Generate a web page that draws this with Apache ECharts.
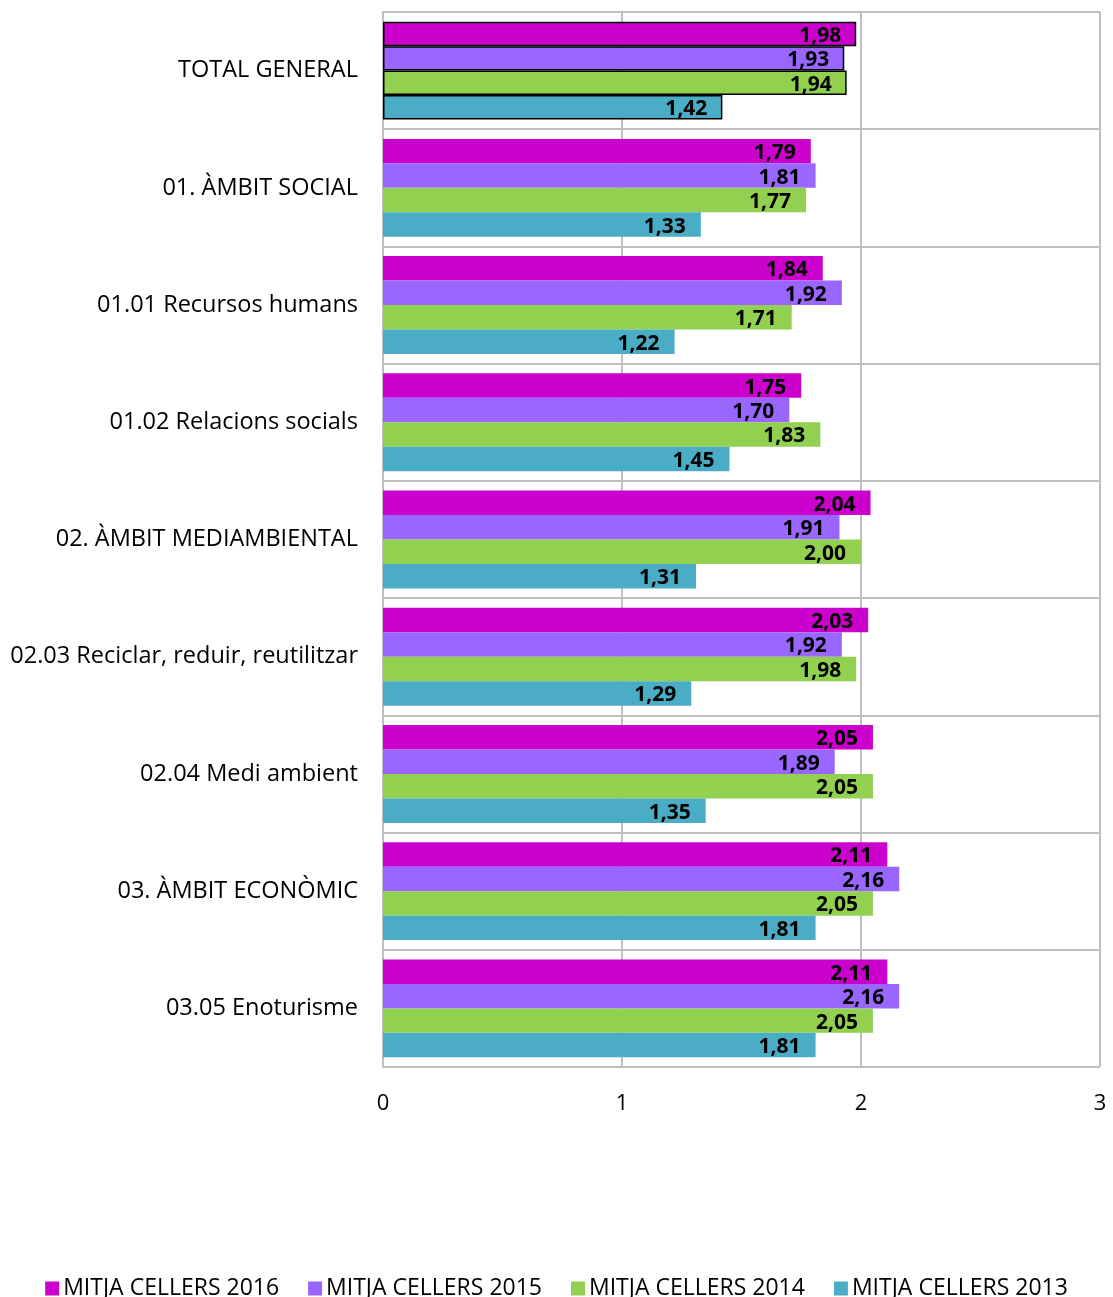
<!DOCTYPE html>
<html><head><meta charset="utf-8">
<script src="https://cdn.jsdelivr.net/npm/echarts@6/dist/echarts.min.js"></script>
<style>html,body{margin:0;padding:0;background:#fff}#c{width:1113px;height:1297px}</style>
</head><body><div id="c"></div>
<script>
const categories = ["TOTAL GENERAL","01. ÀMBIT SOCIAL","01.01 Recursos humans","01.02 Relacions socials","02. ÀMBIT MEDIAMBIENTAL","02.03 Reciclar, reduir, reutilitzar","02.04 Medi ambient","03. ÀMBIT ECONÒMIC","03.05 Enoturisme"];
const seriesNames = ["MITJA CELLERS 2016","MITJA CELLERS 2015","MITJA CELLERS 2014","MITJA CELLERS 2013"];
const v2016 = [1.98,1.79,1.84,1.75,2.04,2.03,2.05,2.11,2.11];
const v2015 = [1.93,1.81,1.92,1.70,1.91,1.92,1.89,2.16,2.16];
const v2014 = [1.94,1.77,1.71,1.83,2.00,1.98,2.05,2.05,2.05];
const v2013 = [1.42,1.33,1.22,1.45,1.31,1.29,1.35,1.81,1.81];
const xTicks = [0,1,2,3];
const colors = ["#CC00CC","#9966FF","#92D050","#4BACC6"];

const FONT = "'Open Sans','Noto Sans',sans-serif";
const allVals = [v2016,v2015,v2014,v2013];
const chart = echarts.init(document.getElementById('c'));
chart.setOption({
  animation:false,
  textStyle:{fontFamily:FONT},
  grid:{left:383,right:13,top:12,bottom:230,containLabel:false},
  legend:{left:'center',top:1272,itemWidth:14,itemHeight:14,itemGap:29,icon:'rect',
    textStyle:{fontSize:23,color:'#000',fontFamily:FONT,padding:[0,0,0,-1]},data:seriesNames},
  xAxis:{type:'value',min:xTicks[0],max:xTicks[xTicks.length-1],interval:1,
    axisLine:{show:false},axisTick:{show:false},
    axisLabel:{fontSize:22,color:'#000',margin:26,fontFamily:FONT},
    splitLine:{show:true,lineStyle:{color:'#BFBFBF',width:2}}},
  yAxis:{type:'category',inverse:true,data:categories,
    axisLine:{show:true,lineStyle:{color:'#BFBFBF',width:2}},axisTick:{show:false},
    axisLabel:{fontSize:23.5,color:'#000',margin:25,fontFamily:FONT},
    splitLine:{show:true,lineStyle:{color:'#BFBFBF',width:2}}},
  series: seriesNames.map((n,i)=>({
    name:n,type:'bar',barGap:'0%',barCategoryGap:'16.5%',
    itemStyle:{color:colors[i]},
    data: allVals[i].map((v,j)=> j===0 ? {value:v,itemStyle:{borderColor:'#000',borderWidth:1.5}} : v),
    label:{show:true,position:'insideRight',distance:15,color:'#000',fontWeight:'bold',fontSize:21,fontFamily:FONT,
      offset:[0,2],formatter:p=>p.value.toFixed(2).replace('.',',')}
  }))
});
</script></body></html>
